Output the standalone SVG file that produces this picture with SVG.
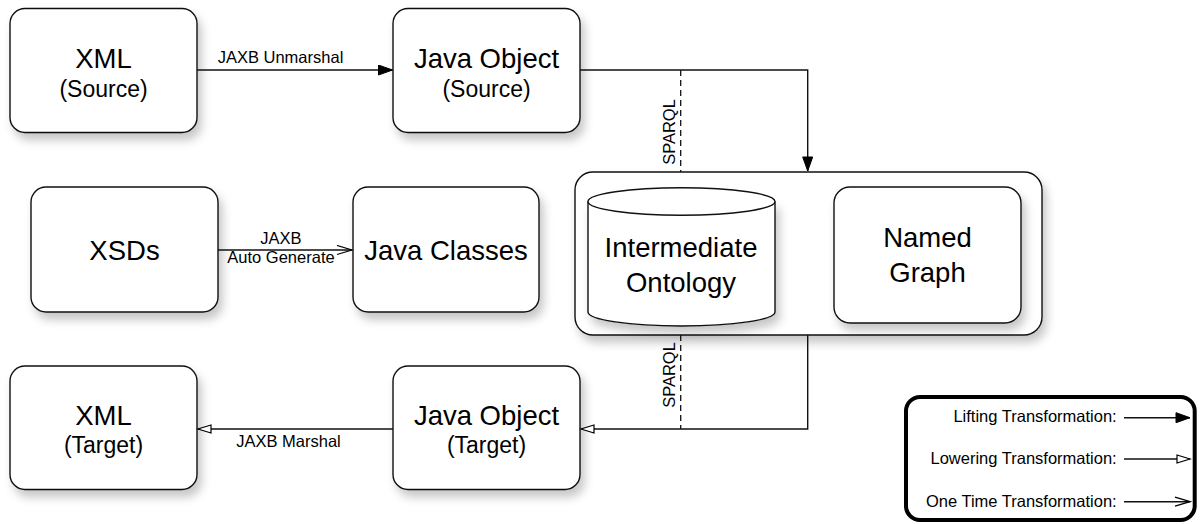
<svg xmlns="http://www.w3.org/2000/svg" width="1200" height="524" viewBox="0 0 1200 524">
<defs>
  <filter id="sh" x="-20%" y="-20%" width="150%" height="160%">
    <feDropShadow dx="4" dy="7" stdDeviation="5" flood-color="#000" flood-opacity="0.22"/>
  </filter>
  <marker id="filled" markerUnits="userSpaceOnUse" markerWidth="16" markerHeight="12" refX="15" refY="5.5" orient="auto">
    <path d="M1,0.5 L15,5.5 L1,10.5 Z" fill="#000" stroke="#000" stroke-width="1"/>
  </marker>
  <marker id="hollow" markerUnits="userSpaceOnUse" markerWidth="16" markerHeight="12" refX="14" refY="5" orient="auto">
    <path d="M1,1 L14,5 L1,9 Z" fill="#fff" stroke="#000" stroke-width="1.2"/>
  </marker>
  <marker id="open" markerUnits="userSpaceOnUse" markerWidth="18" markerHeight="12" refX="16" refY="5.5" orient="auto">
    <path d="M1,1 L16,5.5 L1,10" fill="none" stroke="#000" stroke-width="1.3"/>
  </marker>
</defs>
<style>
  .box { fill: #fff; stroke: #111; stroke-width: 1.4; }
  .main { font-family: "Liberation Sans", Arial, sans-serif; font-size: 27.5px; fill: #000; text-anchor: middle; }
  .sub { font-family: "Liberation Sans", Arial, sans-serif; font-size: 23px; fill: #000; text-anchor: middle; }
  .lbl { font-family: "Liberation Sans", Arial, sans-serif; font-size: 16.5px; fill: #000; text-anchor: middle; }
  .leg { font-family: "Liberation Sans", Arial, sans-serif; font-size: 16.5px; fill: #000; text-anchor: end; }
  .ln { fill: none; stroke: #111; stroke-width: 1.4; }
  .dash { fill: none; stroke: #111; stroke-width: 1.3; stroke-dasharray: 6 4; }
</style>

<g id="container">
  <rect class="box" x="575" y="172" width="467" height="163" rx="18" filter="url(#sh)"/>
</g>

<g id="xml-source">
  <rect class="box" x="10" y="8.5" width="187" height="124" rx="15" filter="url(#sh)"/>
  <text class="main" x="103.5" y="67.5">XML</text>
  <text class="sub" x="103.5" y="96.5">(Source)</text>
</g>

<g id="java-object-source">
  <rect class="box" x="393" y="8.5" width="187" height="124" rx="15" filter="url(#sh)"/>
  <text class="main" x="486.5" y="67.5">Java Object</text>
  <text class="sub" x="486.5" y="96.5">(Source)</text>
</g>

<g id="xsds">
  <rect class="box" x="31" y="187" width="187" height="125" rx="15" filter="url(#sh)"/>
  <text class="main" x="124.5" y="260">XSDs</text>
</g>

<g id="java-classes">
  <rect class="box" x="353" y="187" width="186" height="125" rx="15" filter="url(#sh)"/>
  <text class="main" x="446" y="260">Java Classes</text>
</g>

<g id="intermediate-ontology">
  <path class="box" d="M588,201.5 L588,312 A93.5,14 0 0 0 775,312 L775,201.5" filter="url(#sh)"/>
  <ellipse class="box" cx="681.5" cy="201.5" rx="93.5" ry="13.7"/>
  <text class="main" x="681" y="257">Intermediate</text>
  <text class="main" x="681" y="292">Ontology</text>
</g>

<g id="named-graph">
  <rect class="box" x="834" y="187" width="187" height="136" rx="16" filter="url(#sh)"/>
  <text class="main" x="927.5" y="247">Named</text>
  <text class="main" x="927.5" y="282">Graph</text>
</g>

<g id="xml-target">
  <rect class="box" x="10" y="366" width="187" height="123.5" rx="15" filter="url(#sh)"/>
  <text class="main" x="103.5" y="424.5">XML</text>
  <text class="sub" x="103.5" y="453">(Target)</text>
</g>

<g id="java-object-target">
  <rect class="box" x="393" y="366" width="187" height="123.5" rx="15" filter="url(#sh)"/>
  <text class="main" x="486.5" y="424.5">Java Object</text>
  <text class="sub" x="486.5" y="453">(Target)</text>
</g>

<g id="connectors">
  <line class="ln" x1="197" y1="70" x2="392.5" y2="70" marker-end="url(#filled)"/>
  <text class="lbl" x="280.5" y="63">JAXB Unmarshal</text>

  <polyline class="ln" points="580,70 807.7,70 807.7,171" marker-end="url(#filled)"/>
  <line class="dash" x1="680.7" y1="70" x2="680.7" y2="172"/>
  <text class="lbl" transform="translate(675,132) rotate(-90)">SPARQL</text>

  <line class="ln" x1="218" y1="250" x2="352" y2="250" marker-end="url(#open)"/>
  <text class="lbl" x="281" y="244">JAXB</text>
  <text class="lbl" x="281" y="263">Auto Generate</text>

  <polyline class="ln" points="807.7,335 807.7,429 581,429" marker-end="url(#hollow)"/>
  <line class="dash" x1="680.7" y1="335" x2="680.7" y2="429"/>
  <text class="lbl" transform="translate(675,375) rotate(-90)">SPARQL</text>

  <line class="ln" x1="393" y1="429" x2="198" y2="429" marker-end="url(#hollow)"/>
  <text class="lbl" x="288.5" y="447">JAXB Marshal</text>
</g>

<g id="legend">
  <rect x="906" y="397" width="288.7" height="123" rx="14" fill="#fff" stroke="#000" stroke-width="4"/>
  <text class="leg" x="1116.7" y="422">Lifting Transformation:</text>
  <line class="ln" x1="1124" y1="417.7" x2="1190" y2="417.7" marker-end="url(#filled)"/>
  <text class="leg" x="1116.7" y="464">Lowering Transformation:</text>
  <line class="ln" x1="1124" y1="459" x2="1190" y2="459" marker-end="url(#hollow)"/>
  <text class="leg" x="1116.7" y="506.7">One Time Transformation:</text>
  <line class="ln" x1="1124" y1="501.7" x2="1190" y2="501.7" marker-end="url(#open)"/>
</g>
</svg>
